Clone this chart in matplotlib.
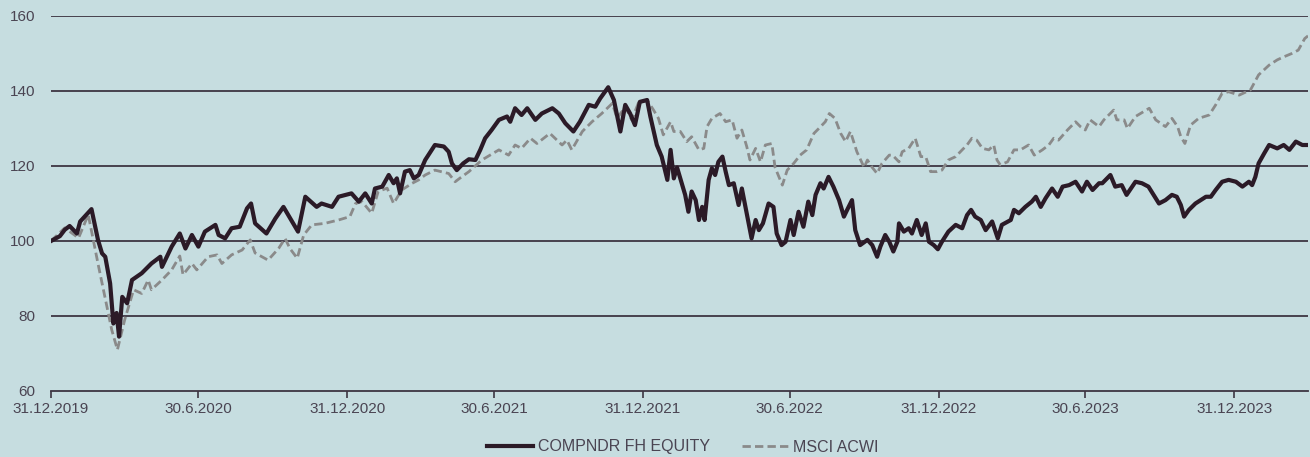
import numpy as np
import pandas as pd
import matplotlib
matplotlib.use("Agg")
import matplotlib.pyplot as plt
import matplotlib.dates as mdates

# dni od 31.12.2019, wartosci indeksowane do 100
compndr_days = [0, 11, 17, 23, 32, 36, 50, 58, 63, 67, 73, 77, 81, 84, 88, 94, 100, 112, 124, 135,
                137, 149, 159, 166, 174, 182, 190, 203, 207, 215, 223, 233, 242, 247, 252, 266, 277, 287,
                293, 305, 314, 328, 334, 347, 355, 371, 380, 388, 396, 400, 409, 417, 423, 427, 431, 437,
                443, 448, 454, 462, 474, 485, 491, 495, 501, 509, 516, 524, 530, 536, 544, 553, 563, 567,
                573, 581, 588, 598, 606, 619, 627, 635, 645, 653, 664, 672, 678, 688, 695, 703, 709, 715,
                721, 727, 736, 740, 748, 754, 761, 765, 769, 773, 777, 783, 787, 791, 796, 800, 804, 807,
                812, 816, 820, 824, 829, 833, 837, 843, 849, 853, 859, 865, 870, 874, 879, 886, 892, 896,
                902, 907, 913, 917, 923, 929, 935, 940, 944, 950, 954, 960, 966, 973, 979, 983, 989, 993,
                999, 1008, 1014, 1020, 1024, 1030, 1035, 1040, 1045, 1047, 1053, 1059, 1063, 1069, 1075,
                1080, 1084, 1090, 1095, 1100, 1108, 1117, 1125, 1131, 1136, 1141, 1148, 1154, 1162, 1169,
                1174, 1185, 1189, 1195, 1203, 1211, 1216, 1222, 1228, 1236, 1243, 1249, 1257, 1265, 1273,
                1279, 1286, 1294, 1298, 1308, 1314, 1322, 1328, 1339, 1347, 1355, 1364, 1368, 1376, 1384,
                1390, 1395, 1399, 1405, 1413, 1426, 1432, 1438, 1446, 1454, 1463, 1471, 1479, 1483, 1487,
                1491, 1498, 1504, 1514, 1522, 1529, 1537, 1545, 1552]
compndr = [100, 101.3, 103, 104, 102, 105.2, 108.5, 100.3, 96.7, 95.8, 88.7, 78, 80.8, 74.5, 85.1, 83.4,
           89.6, 91.4, 94, 95.8, 93.1, 98.5, 102, 98, 101.6, 98.5, 102.5, 104.3, 101.6, 100.7, 103.4,
           103.8, 108.7, 110, 104.7, 102, 106, 109.1, 106.9, 102.5, 111.8, 109.1, 110, 109.1, 111.8,
           112.7, 110.5, 112.7, 110, 114, 114.5, 117.6, 115.4, 116.7, 112.7, 118.5, 118.9, 116.7, 117.6,
           121.6, 125.6, 125.2, 123.8, 120.7, 118.9, 120.7, 121.8, 121.6, 124.3, 127.4, 129.6, 132.3,
           133.2, 131.8, 135.4, 133.6, 135.4, 132.3, 134, 135.4, 134, 131.4, 129.2, 131.8, 136.3, 135.8,
           138, 141, 137.6, 129.2, 136.3, 134, 130.9, 137.1, 137.6, 133.2, 125.6, 122.5, 116.3, 124.3,
           116.7, 119.6, 116.7, 112.3, 107.8, 113.2, 110.9, 105.6, 109.1, 105.6, 116.3, 119.4, 117.6,
           121.1, 122.5, 118.5, 114.9, 115.4, 109.6, 114, 107.4, 100.7, 105.6, 102.9, 104.7, 110, 109.1,
           102, 98.9, 99.8, 105.6, 101.6, 107.8, 103.8, 110.5, 106.9, 112.3, 115.4, 114, 117.1, 114.5,
           110.9, 106.5, 108.3, 110.9, 102.9, 98.9, 100.3, 98.9, 95.8, 98.5, 101.6, 99.8, 97.2, 99.8,
           104.7, 102.5, 103.4, 102, 105.6, 101.6, 104.7, 99.8, 98.9, 97.8, 99.8, 102.5, 104.3, 103.4,
           106.9, 108.3, 106.5, 105.6, 102.9, 105.2, 100.7, 104.3, 105.6, 108.3, 107.4, 109.1, 110.5,
           111.8, 109.1, 111.4, 114, 111.8, 114.5, 114.9, 115.8, 113.2, 115.8, 113.6, 115.4, 115.4,
           117.6, 114.5, 114.9, 112.3, 115.8, 115.4, 114.5, 111.4, 110, 110.9, 112.3, 111.8, 109.6,
           106.5, 108.3, 110, 111.8, 111.8, 113.6, 115.8, 116.3, 115.8, 114.5, 115.8, 114.9, 117.1,
           120.7, 123.4, 125.6, 124.7, 125.6, 124.3, 126.5, 125.6, 125.6]

acwi_days = [0, 17, 34, 46, 58, 75, 82, 91, 102, 112, 120, 124, 137, 149, 159, 163, 174, 180, 194, 205,
             211, 223, 236, 246, 252, 268, 281, 289, 295, 304, 312, 322, 338, 355, 369, 376, 384, 396,
             404, 415, 423, 433, 446, 454, 462, 474, 491, 499, 507, 516, 532, 553, 565, 573, 581, 592,
             600, 616, 631, 637, 643, 656, 668, 680, 693, 699, 709, 717, 725, 736, 744, 750, 756, 765,
             769, 777, 785, 791, 800, 806, 810, 816, 826, 833, 841, 847, 853, 859, 863, 870, 876, 882,
             890, 894, 903, 909, 917, 925, 933, 942, 948, 956, 961, 968, 975, 981, 987, 995, 1004, 1008,
             1014, 1020, 1026, 1035, 1039, 1047, 1051, 1059, 1067, 1074, 1080, 1086, 1094, 1100, 1108,
             1117, 1125, 1131, 1137, 1143, 1150, 1158, 1164, 1168, 1172, 1181, 1189, 1197, 1207, 1214,
             1224, 1232, 1238, 1244, 1255, 1265, 1271, 1277, 1283, 1294, 1300, 1312, 1316, 1325, 1329,
             1339, 1356, 1364, 1376, 1384, 1391, 1395, 1400, 1407, 1417, 1430, 1438, 1446, 1454, 1467,
             1481, 1491, 1504, 1514, 1522, 1532, 1540, 1548, 1552]
acwi = [100, 103.5, 100.8, 107, 94, 76.3, 71, 79, 87, 86, 89.6, 87, 89.6, 92.3, 96, 91, 94, 92.3, 95.8,
        96.3, 94, 96.3, 97.6, 100.3, 96.8, 94.9, 98, 100.7, 98, 95.4, 101.6, 104.3, 104.7, 105.6, 106.5,
        110, 110.5, 107.4, 113.2, 114.1, 110, 113.6, 115.4, 116.3, 117.6, 118.9, 118, 115.8, 117.1,
        118.5, 121.6, 124.3, 122.9, 125.6, 124.7, 127.4, 126, 128.7, 125.6, 126.9, 124.3, 129.2, 131.8,
        134, 136.7, 132.7, 135.8, 132.3, 136.7, 137.6, 134.9, 132.7, 128.3, 131.8, 129.2, 129.2, 126.5,
        127.8, 124.3, 124.7, 130.5, 132.7, 134, 131.8, 132.3, 127.4, 129.6, 125.2, 121.6, 124.7, 121.1,
        125.6, 126, 119.6, 114.9, 118.9, 120.7, 122.9, 124.3, 128.7, 130, 131.8, 134, 132.7, 128.7,
        126.5, 129.2, 123.8, 119.6, 121.6, 119.6, 118, 120.7, 122.9, 122.9, 121.1, 123.8, 124.7, 127.4,
        122.5, 122.5, 118.5, 118.5, 118.9, 121.6, 122.5, 124.3, 125.6, 127.4, 126.9, 124.7, 124.3,
        125.6, 121.6, 120.3, 121.1, 124.3, 124.3, 125.6, 122.9, 124.3, 125.6, 127.4, 126.9, 129.6,
        131.8, 130.5, 129.6, 132.3, 130.5, 132.3, 134.9, 132.3, 132.3, 130, 133.2, 135.4, 132.3, 130.5,
        132.7, 130.5, 127.8, 126, 130.9, 132.7, 133.6, 136.3, 139.4, 139.8, 138.9, 140.3, 144.3, 146.9,
        148.3, 149.1, 150, 150.9, 154, 154.7]

tick_dates = ["2019-12-31", "2020-06-30", "2020-12-31", "2021-06-30", "2021-12-31",
              "2022-06-30", "2022-12-31", "2023-06-30", "2023-12-31"]
tick_labels = ["31.12.2019", "30.6.2020", "31.12.2020", "30.6.2021", "31.12.2021",
               "30.6.2022", "31.12.2022", "30.6.2023", "31.12.2023"]

start = pd.Timestamp("2019-12-31")
x1 = start + pd.to_timedelta(compndr_days, unit="D")
x2 = start + pd.to_timedelta(acwi_days, unit="D")

bg = "#c6dde0"
txt = "#4a4452"
plt.rcParams["font.family"] = ["Liberation Sans", "DejaVu Sans"]

fig = plt.figure(figsize=(13.1, 4.57), dpi=100, facecolor=bg)
ax = fig.add_axes([51 / 1310, 1 - 391 / 457, 1257 / 1310, 375 / 457])
ax.set_facecolor(bg)

ax.plot(x2, acwi, color="#8a8a8a", lw=2.0, ls=(0, (3.0, 1.5)), label="MSCI ACWI", zorder=3)
ax.plot(x1, compndr, color="#2b1a27", lw=3.0, label="COMPNDR FH EQUITY", zorder=4)

ax.set_ylim(60, 160)
ax.set_yticks([60, 80, 100, 120, 140, 160])
ax.set_xlim(start, start + pd.Timedelta(days=1552))
ax.set_xticks(pd.to_datetime(tick_dates))
ax.set_xticklabels(tick_labels)

for v in [80, 100, 120, 140, 160]:
    ax.axhline(v, color="#3d3542", lw=1.3, zorder=1)

for s in ["left", "right", "top"]:
    ax.spines[s].set_visible(False)
ax.spines["bottom"].set_color("#3d3542")
ax.spines["bottom"].set_linewidth(1.3)

ax.tick_params(axis="y", length=0, pad=11, labelsize=11, labelcolor=txt)
ax.tick_params(axis="x", length=5, width=1.2, color="#3d3542", pad=3, labelsize=11, labelcolor=txt)

h, l = ax.get_legend_handles_labels()
fig.legend(h[::-1], l[::-1], loc="center", bbox_to_anchor=(683 / 1310, 1 - 447 / 457), ncol=2,
           frameon=False, fontsize=11.5, handlelength=2.9, handletextpad=0.3, columnspacing=2.0,
           labelcolor=txt)

fig.savefig("out.png", dpi=100, facecolor=bg)
